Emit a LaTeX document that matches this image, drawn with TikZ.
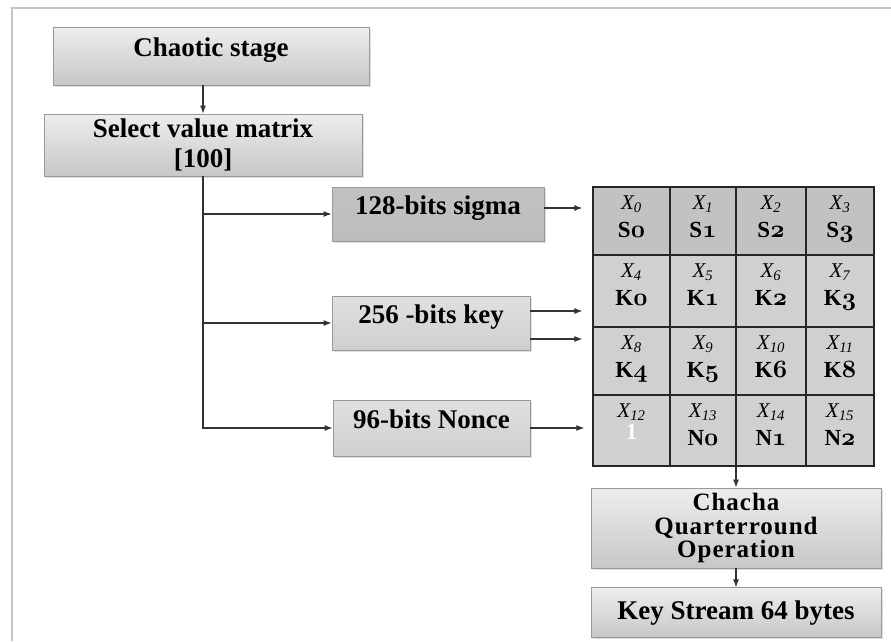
\documentclass[tikz,border=0pt]{standalone}
\usepackage{fontspec}
\setmainfont{Liberation Serif}
\usetikzlibrary{positioning}
\usetikzlibrary{shadows}
\usetikzlibrary{arrows.meta}
% old style digits for the cell values
\newcommand*\osf[1]{{\boldmath$\mathnormal{#1}$}}
\newcommand*\cellval[2]{{\fontsize{23}{27}\selectfont\bfseries #1\osf{#2}}}
\newcommand*\lonebit{{\fontsize{23}{27}\selectfont\bfseries\raisebox{6pt}{\textcolor{white}{1}}}}

\begin{document}
\begin{tikzpicture}
    [%
        x=1pt,y=-1pt,%
        stage box/.style={%
            draw=gray!80,%
            line width=0.8pt,%
            top color=gray!14,%
            bottom color=gray!44,%
            drop shadow={shadow xshift=1.5pt,shadow yshift=-1.5pt,opacity=0.25},%
            font=\fontsize{27}{30}\selectfont\bfseries,%
            align=center,%
            inner sep=0pt%
        },%
        input box/.style={%
            stage box,%
            top color=gray!24,%
            bottom color=gray!38%
        },%
        lifted text/.style={%
            text height=#1,%
            text depth=#1%
        },%
        cell/.style={%
            draw=black!85,%
            line width=1.2pt,%
            inner sep=0pt,%
            align=center,%
            font=\fontsize{21}{28}\selectfont%
        },%
        link/.style={%
            -{Latex[length=8pt,width=6pt]},%
            line width=1.1pt,%
            draw=black!80%
        }%
    ]%
%
    \useasboundingbox (0,0) rectangle (891,641);
    \draw[gray!45,line width=2pt] (12,641) -- (12,8) -- (891,8);
%
    % left column
    \node[stage box,minimum width=316pt,minimum height=58pt,lifted text=29pt] (chaos) at (211,56) {Chaotic stage};
    \node[stage box,minimum width=318pt,minimum height=62pt] (select) at (203,145) {Select value matrix\\{}[100]};
%
    % inputs
    \node[stage box,top color=gray!48,bottom color=gray!52,minimum width=212pt,minimum height=54pt,lifted text=27pt] (sigma) at (438,214) {128-bits sigma};
    \node[input box,minimum width=198pt,minimum height=54pt,lifted text=27pt] (key) at (431,323) {256 -bits key};
    \node[input box,minimum width=197pt,minimum height=56pt,lifted text=28pt] (nonce) at (431.5,428) {96-bits Nonce};
%
    % state matrix
    % \r row, \rtop/\rbot row edges, \shade cell fill, \Vals row values
    \foreach \r/\rtop/\rbot/\shade/\Vals in {%
        0/187/255/gray!48/{\cellval S0,\cellval S1,\cellval S2,\cellval S3},%
        1/255/327/gray!37/{\cellval K0,\cellval K1,\cellval K2,\cellval K3},%
        2/327/395/gray!37/{\cellval K4,\cellval K5,\cellval K6,\cellval K8},%
        3/395/466/gray!37/{\lonebit,\cellval N0,\cellval N1,\cellval N2}%
    }{
        \foreach \val [count=\c from 0] in \Vals {
            \pgfmathsetmacro\clft{{593,670,736,806}[\c]}
            \pgfmathsetmacro\crgt{{670,736,806,874}[\c]}
            \pgfmathsetmacro\cw{\crgt-\clft}
            \pgfmathsetmacro\cx{(\clft+\crgt)/2}
            \pgfmathsetmacro\cy{(\rtop+\rbot)/2}
            \pgfmathsetmacro\cdp{\rbot-\rtop-50}
            \pgfmathtruncatemacro\idx{4*\r+\c}
            \node[cell,fill=\shade,minimum width=\cw pt,text height=50pt,text depth=\cdp pt] (x-\idx) at (\cx,\cy) {{\itshape X\textsubscript{\idx}}\\\val};
        } % \foreach \val
    } % \foreach \r
    \draw[line width=1.5pt,black!85] (x-0.north west) rectangle (x-15.south east);
%
    % right column
    \node[stage box,minimum width=290pt,minimum height=80pt,font=\fontsize{25}{23.5}\selectfont\bfseries\addfontfeature{LetterSpace=4}] (chacha) at (736,528) {Chacha\\Quarterround\\Operation};
    \node[stage box,minimum width=290pt,minimum height=50pt,below=19pt of chacha] (stream) {Key Stream 64 bytes};
%
    % connectors
    \draw[link] (chaos.south -| select.north) -- (select.north);
    \draw[link] (select.south) |- (nonce.west);
    \draw[link] (select.south |- sigma.west) -- (sigma.west);
    \draw[link] (select.south |- key.west) -- (key.west);
    \draw[link,shorten >=10pt] ([yshift=6pt]sigma.east) -- ([yshift=6pt]sigma.east -| x-0.west);
    \foreach \dy in {12pt,-16pt}
        \draw[link,shorten >=10pt] ([yshift=\dy]key.east) -- ([yshift=\dy]key.east -| x-4.west);
    \draw[link,shorten >=8pt] (nonce.east) -- (nonce.east -| x-12.west);
    \draw[link] (chacha.north |- x-13.south) -- (chacha.north);
    \draw[link] (chacha) -- (stream);
\end{tikzpicture}
\end{document}
